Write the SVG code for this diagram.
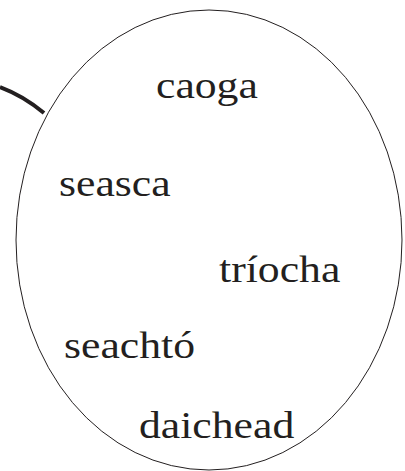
<svg xmlns="http://www.w3.org/2000/svg" width="405" height="471" viewBox="0 0 405 471">
<style>
.t{font-family:"Liberation Serif","Times New Roman",serif;font-size:38px;fill:#231f20}
</style>
<rect width="405" height="471" fill="#fff"/>
<g id="connectors">
<path d="M0,87 Q24,96 44,113" fill="none" stroke="#231f20" stroke-width="4"/>
</g>
<g id="set">
<ellipse cx="209" cy="240" rx="193" ry="230" fill="none" stroke="#231f20" stroke-width="1"/>
</g>
<g id="caoga" transform="translate(156,98) scale(1.15,1)"><text class="t">caoga</text></g>
<g id="seasca" transform="translate(59,196) scale(1.15,1)"><text class="t">seasca</text></g>
<g id="triocha" transform="translate(219,282) scale(1.15,1)"><text class="t">tríocha</text></g>
<g id="seachto" transform="translate(64,358) scale(1.15,1)"><text class="t">seachtó</text></g>
<g id="daichead" transform="translate(139,438) scale(1.15,1)"><text class="t">daichead</text></g>
</svg>
